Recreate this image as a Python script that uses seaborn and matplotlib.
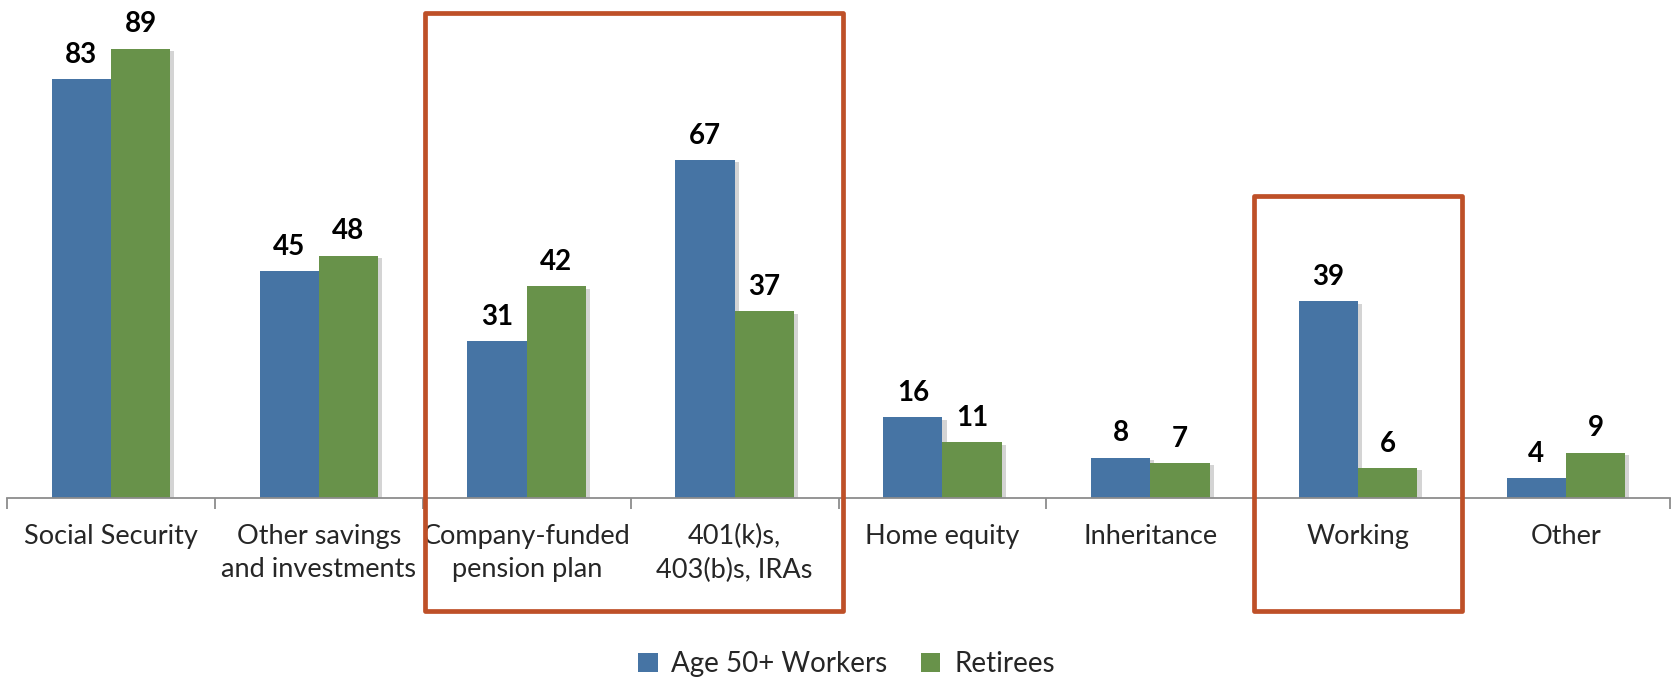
import numpy as np
import pandas as pd
import seaborn as sns
import matplotlib.pyplot as plt
import matplotlib.patheffects as pe
from matplotlib.patches import Rectangle, Patch

categories = [
    "Social Security",
    "Other savings\nand investments",
    "Company-funded\npension plan",
    "401(k)s,\n403(b)s, IRAs",
    "Home equity",
    "Inheritance",
    "Working",
    "Other",
]
workers = [83, 45, 31, 67, 16, 8, 39, 4]
retirees = [89, 48, 42, 37, 11, 7, 6, 9]
series = ["Age 50+ Workers", "Retirees"]
colors = ["#4674A4", "#68924A"]
box_color = "#BE5028"

df = pd.DataFrame(
    {
        "category": categories * 2,
        "value": workers + retirees,
        "group": [series[0]] * len(workers) + [series[1]] * len(retirees),
    }
)

sns.set_theme(style="white")
plt.rcParams["font.family"] = ["Lato", "DejaVu Sans"]

fig = plt.figure(figsize=(16.73, 6.78), dpi=100)
ax = fig.add_axes([0.0042, 0.2655, 0.994, 0.730])

sns.barplot(
    data=df,
    x="category",
    y="value",
    hue="group",
    order=categories,
    hue_order=series,
    palette=colors,
    width=0.57,
    saturation=1,
    errorbar=None,
    legend=False,
    ax=ax,
)

shadow = [pe.SimplePatchShadow(offset=(3, -2), alpha=0.25, shadow_rgbFace="#555555"), pe.Normal()]
for bar in ax.patches:
    bar.set_path_effects(shadow)
    bar.set_linewidth(0)

for cont in ax.containers:
    ax.bar_label(cont, padding=8, fontsize=20, fontweight="bold", color="black")

ax.set_xlim(-0.5, len(categories) - 0.5)
ax.set_ylim(0, 98)
ax.set_yticks([])
ax.set_xlabel("")
ax.set_ylabel("")
sns.despine(ax=ax, left=True)
ax.spines["bottom"].set_color("#8C8C8C")
ax.spines["bottom"].set_linewidth(1.3)

# category ticks sit on the boundaries, labels in the middle
ax.set_xticks(np.arange(-0.5, len(categories)), labels=[""] * (len(categories) + 1))
ax.set_xticks(np.arange(len(categories)), labels=categories, minor=True)
ax.tick_params(axis="x", which="major", length=8, width=1.3, color="#8C8C8C", direction="out", bottom=True)
ax.tick_params(axis="x", which="minor", length=0, pad=19, labelsize=19.5)
for t in ax.get_xticklabels(minor=True):
    t.set_linespacing(1.4)

# highlight boxes
for x0, x1, top in [(1.51, 3.52, 96.0), (5.5, 6.5, 59.8)]:
    ax.add_patch(
        Rectangle(
            (x0, -22.4), x1 - x0, top + 22.4,
            fill=False, edgecolor=box_color, linewidth=3.4,
            joinstyle="round", clip_on=False, zorder=5,
        )
    )

handles = [Patch(facecolor=c, edgecolor="none") for c in colors]
fig.legend(
    handles, series,
    loc="center", bbox_to_anchor=(0.506, 0.02), ncol=2, frameon=False,
    fontsize=20, handlelength=0.7, handleheight=0.7, handletextpad=0.5, columnspacing=1.2,
)

fig.savefig("out.png", dpi=100)
